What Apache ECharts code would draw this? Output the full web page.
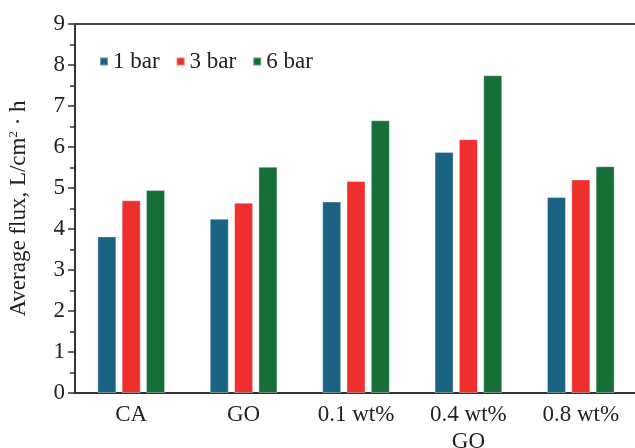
<!DOCTYPE html>
<html>
<head>
<meta charset="utf-8">
<script src="https://cdn.jsdelivr.net/npm/echarts@6/dist/echarts.min.js"></script>
<style>html,body{margin:0;padding:0;background:#fff}#c{width:635px;height:448px}</style>
</head>
<body>
<div id="c"></div>
<script>
const categories = ['CA', 'GO', '0.1 wt%', '0.4 wt%\nGO', '0.8 wt%'];
const seriesNames = ['1 bar', '3 bar', '6 bar'];
const bar1 = [3.82, 4.25, 4.67, 5.88, 4.78];
const bar3 = [4.70, 4.64, 5.17, 6.19, 5.21];
const bar6 = [4.95, 5.52, 6.65, 7.75, 5.53];
const yTicks = [0, 1, 2, 3, 4, 5, 6, 7, 8, 9];
const colors = ['#1b6383', '#ef2e2e', '#176f38'];

const FONT = 'Liberation Serif';
const legendText = { fontFamily: FONT, fontSize: 23, color: '#222' };
const chart = echarts.init(document.getElementById('c'));
const values = [bar1, bar3, bar6];
chart.setOption({
  animation: false,
  textStyle: { fontFamily: FONT },
  grid: { left: 75, right: -2, top: 24, bottom: 55, containLabel: false, outerBoundsMode: 'none' },
  legend: {
    left: 99, top: 50, padding: 0,
    itemWidth: 8, itemHeight: 8, itemGap: 16,
    icon: 'rect',
    data: seriesNames.map(n => ({ name: n, textStyle: legendText })),
    textStyle: legendText
  },
  xAxis: [{
    type: 'category',
    data: categories,
    axisLine: { lineStyle: { color: '#333', width: 2 } },
    axisTick: { show: false },
    axisLabel: { fontFamily: FONT, fontSize: 23, color: '#222', margin: 8, lineHeight: 27 }
  }, {
    type: 'category',
    position: 'top',
    data: categories,
    axisLine: { lineStyle: { color: '#444', width: 2 } },
    axisTick: { show: false },
    axisLabel: { show: false }
  }],
  yAxis: {
    type: 'value',
    min: yTicks[0], max: yTicks[yTicks.length - 1], interval: 1,
    name: 'Average flux, L/cm{sup|2} · h',
    nameLocation: 'middle',
    nameGap: 45,
    nameTextStyle: {
      fontFamily: FONT, fontSize: 23, color: '#222',
      rich: { sup: { fontFamily: FONT, fontSize: 13, verticalAlign: 'top', color: '#222', padding: [0, 0, 9, 0] } }
    },
    axisLine: { show: true, lineStyle: { color: '#333', width: 2 } },
    axisTick: { show: true, length: 7, lineStyle: { color: '#333', width: 1.5 } },
    minorTick: { show: true, splitNumber: 2, length: 5, lineStyle: { color: '#333', width: 1.5 } },
    splitLine: { show: false },
    axisLabel: { fontFamily: FONT, fontSize: 23, color: '#222', margin: 10 }
  },
  series: seriesNames.map((n, i) => ({
    name: n,
    type: 'bar',
    data: values[i],
    barWidth: 19,
    barGap: '28%',
    itemStyle: { color: colors[i], borderColor: 'rgba(255,255,255,0.35)', borderWidth: 1 }
  }))
});
</script>
</body>
</html>
